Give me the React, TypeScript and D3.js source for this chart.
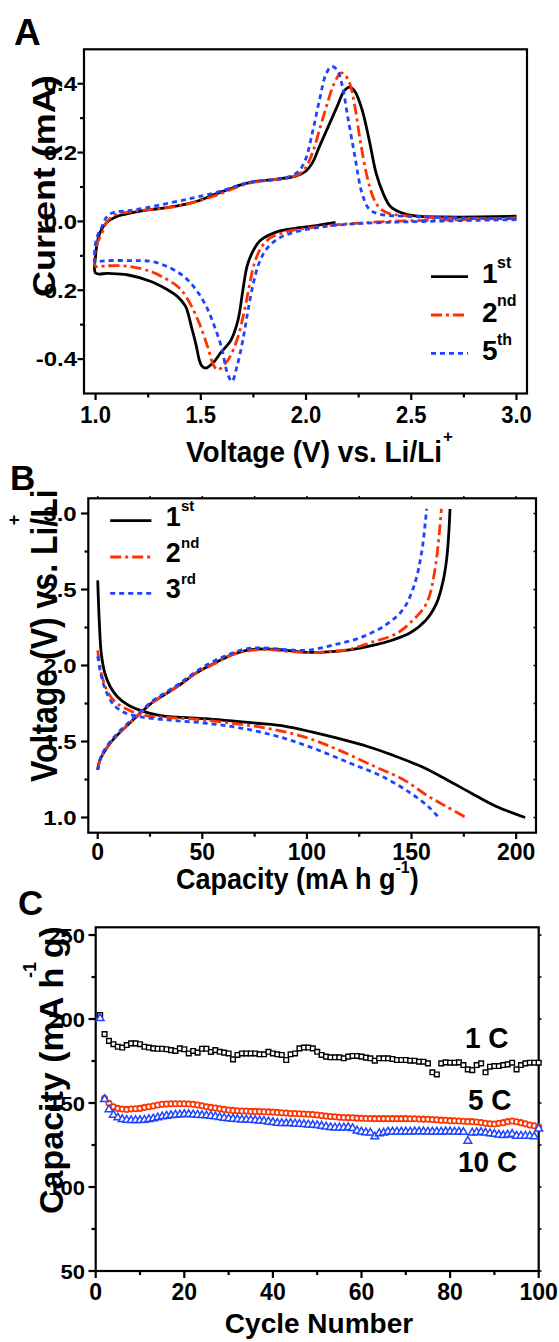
import React from 'react'
import * as d3 from 'd3'

// ---- panel A: cyclic voltammetry (V, mA) ----
const cv1V = [2.14, 2.05, 1.95, 1.88, 1.83, 1.78, 1.745, 1.72, 1.70, 1.677, 1.644, 1.593, 1.56, 1.525, 1.505, 1.494, 1.478, 1.455, 1.427, 1.387, 1.34, 1.26, 1.15, 1.06, 1.0,
  1.0, 1.005, 1.02, 1.05, 1.10, 1.18, 1.26, 1.34, 1.43, 1.49, 1.56, 1.627, 1.694, 1.76, 1.862, 1.946, 1.997, 2.03, 2.064, 2.106, 2.148, 2.18, 2.207, 2.232, 2.266, 2.30, 2.333, 2.366, 2.40, 2.45, 2.518, 2.652, 2.82, 3.0]
const cv1I = [-0.003, -0.012, -0.02, -0.027, -0.038, -0.057, -0.09, -0.13, -0.199, -0.286, -0.344, -0.383, -0.41, -0.426, -0.42, -0.405, -0.36, -0.305, -0.246, -0.217, -0.198, -0.174, -0.155, -0.151, -0.15,
  -0.10, -0.073, -0.034, -0.005, 0.014, 0.026, 0.034, 0.04, 0.05, 0.06, 0.077, 0.092, 0.107, 0.116, 0.123, 0.131, 0.145, 0.17, 0.218, 0.276, 0.334, 0.378, 0.39, 0.378, 0.325, 0.237, 0.14, 0.082, 0.044, 0.026, 0.016, 0.013, 0.013, 0.015]
const cv2V = [3.0, 2.74, 2.4, 2.14, 2.0, 1.9, 1.83, 1.79, 1.755, 1.73, 1.705, 1.672, 1.63, 1.58, 1.56, 1.535, 1.49, 1.43, 1.39, 1.34, 1.26, 1.15, 1.05, 1.0,
  1.003, 1.03, 1.055, 1.09, 1.157, 1.224, 1.39, 1.56, 1.73, 1.9, 1.963, 1.997, 2.03, 2.064, 2.097, 2.131, 2.165, 2.18, 2.207, 2.232, 2.257, 2.29, 2.324, 2.358, 2.40, 2.484, 2.652, 3.0]
const cv2I = [0.01, 0.005, 0.0, -0.01, -0.02, -0.031, -0.048, -0.073, -0.121, -0.189, -0.266, -0.344, -0.402, -0.431, -0.417, -0.369, -0.292, -0.218, -0.189, -0.169, -0.145, -0.13, -0.129, -0.13,
  -0.073, -0.034, 0.0, 0.019, 0.027, 0.032, 0.044, 0.073, 0.111, 0.125, 0.136, 0.155, 0.198, 0.266, 0.334, 0.397, 0.431, 0.429, 0.402, 0.334, 0.237, 0.131, 0.063, 0.034, 0.022, 0.016, 0.01, 0.008]
const cv5V = [3.0, 2.57, 2.23, 2.064, 1.93, 1.86, 1.81, 1.777, 1.75, 1.725, 1.70, 1.672, 1.648, 1.624, 1.60, 1.565, 1.525, 1.478, 1.42, 1.34, 1.26, 1.18, 1.02, 1.0,
  1.003, 1.03, 1.055, 1.09, 1.157, 1.56, 1.73, 1.9, 1.963, 1.997, 2.03, 2.064, 2.097, 2.123, 2.148, 2.173, 2.198, 2.232, 2.266, 2.3, 2.35, 2.484, 2.74, 3.0]
const cv5I = [0.005, 0.0, -0.007, -0.017, -0.034, -0.053, -0.082, -0.121, -0.179, -0.257, -0.344, -0.421, -0.465, -0.436, -0.369, -0.305, -0.246, -0.199, -0.16, -0.131, -0.116, -0.114, -0.116, -0.121,
  -0.053, -0.015, 0.015, 0.027, 0.031, 0.082, 0.113, 0.126, 0.145, 0.179, 0.257, 0.353, 0.431, 0.45, 0.44, 0.392, 0.305, 0.189, 0.082, 0.036, 0.021, 0.015, 0.01, 0.008]
const aXTicks = [1.0, 1.5, 2.0, 2.5, 3.0]
const aXLabels = ['1.0', '1.5', '2.0', '2.5', '3.0']
const aXMinor = [1.25, 1.75, 2.25, 2.75]
const aYTicks = [-0.4, -0.2, 0, 0.2, 0.4]
const aYLabels = ['-0.4', '-0.2', '0.0', '0.2', '0.4']
const aYMinor = [-0.3, -0.1, 0.1, 0.3]

// ---- panel B: charge / discharge (mA h g-1, V) ----
const dis1Cap = [0, 0.85, 1.7, 3.4, 6, 9.4, 14.5, 21.4, 30, 38.5, 51.3, 64, 76, 89.7, 101.7, 115, 129, 141, 154.7, 166.7, 178.6, 190.6, 204.3]
const dis1V = [2.56, 2.26, 2.08, 1.95, 1.86, 1.795, 1.74, 1.70, 1.67, 1.66, 1.65, 1.635, 1.62, 1.60, 1.565, 1.52, 1.467, 1.41, 1.335, 1.25, 1.16, 1.072, 1.0]
const chg1Cap = [0, 0.85, 2.6, 6, 11, 16, 21.4, 26.5, 33.3, 40, 47, 55.6, 64, 71, 79.5, 89.7, 100, 110, 122, 132.5, 141, 149.4, 157, 162, 165, 166.8, 167.8, 168.4]
const chg1V = [1.313, 1.37, 1.42, 1.49, 1.565, 1.63, 1.70, 1.76, 1.82, 1.88, 1.95, 2.014, 2.07, 2.10, 2.11, 2.10, 2.087, 2.09, 2.106, 2.135, 2.168, 2.215, 2.30, 2.41, 2.55, 2.70, 2.87, 3.03]
const dis2Cap = [0, 1.7, 4.3, 7.7, 12.8, 21.4, 31.6, 47, 64, 81, 98.3, 115, 132.5, 146, 158, 166.7, 176]
const dis2V = [2.10, 1.95, 1.84, 1.77, 1.72, 1.675, 1.66, 1.646, 1.62, 1.587, 1.532, 1.445, 1.335, 1.25, 1.14, 1.072, 1.0]
const chg2Cap = [0, 0.85, 2.6, 6, 11, 16, 21.4, 26.5, 33.3, 40, 47, 55.6, 64, 71, 79.5, 89.7, 100, 110, 120, 130.1, 142.8, 150.8, 157.2, 161.2, 164.3]
const chg2V = [1.313, 1.37, 1.42, 1.49, 1.565, 1.63, 1.70, 1.76, 1.82, 1.88, 1.95, 2.01, 2.07, 2.095, 2.105, 2.095, 2.085, 2.09, 2.105, 2.15, 2.21, 2.30, 2.41, 2.63, 3.03]
const dis3Cap = [0, 1.7, 4.3, 7.7, 12.8, 21.4, 35, 52, 69, 86.5, 103, 120.7, 136, 149.6, 158, 163]
const dis3V = [2.06, 1.93, 1.82, 1.74, 1.69, 1.66, 1.64, 1.62, 1.587, 1.532, 1.456, 1.357, 1.27, 1.16, 1.072, 1.0]
const chg3Cap = [0, 0.85, 2.6, 6, 11, 16, 21.4, 26.5, 33.3, 40, 47, 55.6, 64, 71, 79.5, 89.7, 100, 114.2, 126.9, 138, 146, 151.1, 154.8, 157.2]
const chg3V = [1.313, 1.37, 1.43, 1.50, 1.575, 1.64, 1.71, 1.77, 1.83, 1.89, 1.96, 2.03, 2.08, 2.11, 2.115, 2.105, 2.10, 2.14, 2.19, 2.27, 2.37, 2.52, 2.74, 3.03]
const bXTicks = [0, 50, 100, 150, 200]
const bXMinor = [25, 75, 125, 175]
const bYTicks = [1.0, 1.5, 2.0, 2.5, 3.0]
const bYLabels = ['1.0', '1.5', '2.0', '2.5', '3.0']
const bYMinor = [1.25, 1.75, 2.25, 2.75]

// ---- panel C: cycling at 1 C / 5 C / 10 C (mA h g-1) ----
const cap1C = [202.4, 191, 187, 185, 183.5, 183, 184.5, 185.5, 185.5, 185, 183.5, 183, 182.5, 182.3, 182.3, 182, 181.5, 181, 182.5, 182,
  179.5, 181, 180, 182.3, 182.3, 180.4, 181.5, 180.5, 180, 179.5, 176, 178.6, 179.5, 179.5, 179.5, 179.5, 179, 179, 180.5, 179.5,
  179, 178.6, 175.6, 179, 179.5, 182.5, 183, 183, 182.5, 180.5, 178.6, 177.6, 177.2, 177.2, 177.2, 176.6, 177.6, 178, 178, 177.6,
  177, 176.6, 175.2, 176.6, 176.6, 176.6, 176.2, 175.6, 175.6, 175.6, 175.2, 175.2, 174.6, 174.6, 173.6, 168.3, 167, 173.6, 174.2, 174,
  174, 174.2, 172.6, 170, 169.6, 172.6, 173.6, 168.3, 171.6, 172, 172, 172.6, 173, 174, 170, 172.6, 173.6, 174, 174, 174]
const cap5C = [null, 152.8, 149.8, 147.8, 146.8, 146.4, 146.2, 146.4, 146.6, 146.8, 147.4, 147.8, 148.2, 148.8, 149.2, 149.4, 149.6, 149.6, 149.6, 149.6,
  149.4, 149.2, 148.8, 148.4, 147.8, 147.4, 147, 146.6, 146.2, 145.8, 145.6, 145.4, 145.2, 145.2, 145, 145, 144.9, 144.8, 144.7, 144.6,
  144.4, 144.2, 144, 143.8, 143.8, 143.6, 143.5, 143.3, 143.1, 142.9, 142.5, 142.2, 142, 141.8, 141.5, 141.4, 141.3, 141.2, 141, 140.9,
  140.8, 140.8, 140.7, 140.7, 140.7, 140.7, 140.7, 140.7, 140.7, 140.7, 140.6, 140.6, 140.5, 140.4, 140.3, 140.2, 140, 139.8, 139.7, 139.5,
  139.4, 139.3, 139.1, 139, 138.9, 138.7, 138.4, 137.9, 137.7, 137.5, 137.9, 138.3, 138.9, 139.3, 138.8, 138.3, 137.6, 136.9, 136.4, 135.9]
const cap10C = [200.4, 152.2, 146.2, 142.9, 141.3, 140.3, 139.9, 139.7, 139.7, 139.7, 139.9, 140.3, 140.7, 141.3, 141.9, 142.3, 142.7, 142.9, 143.1, 143.3,
  143.3, 143.1, 142.9, 142.7, 142.5, 142.3, 141.9, 141.5, 141.1, 140.7, 140.5, 140.3, 140.1, 140.1, 139.9, 139.7, 139.5, 139.3, 138.9, 138.5,
  138.1, 137.9, 137.9, 137.9, 137.7, 137.5, 137.3, 137.1, 136.9, 136.7, 136.3, 135.9, 135.5, 135.3, 135.3, 135.3, 135.5, 134.9, 133.5, 132.9,
  132.5, 132.3, 130, 131.9, 132.3, 132.9, 132.9, 132.9, 132.9, 132.9, 132.9, 133, 133, 133, 132.9, 132.9, 132.9, 132.9, 133, 133,
  132.9, 132.9, 132.7, 127.4, 132.3, 132.5, 132.7, 132.3, 131.9, 131.5, 131.1, 130.8, 131.1, 131.5, 130.4, 130.4, 130.4, 130.4, 130, 134.7]
const cXTicks = [0, 20, 40, 60, 80, 100]
const cXMinor = [10, 30, 50, 70, 90]
const cYTicks = [50, 100, 150, 200, 250]
const cYMinor = [75, 125, 175, 225]

const FONT = "'Liberation Sans', Arial, Helvetica, sans-serif"
const RED = '#ff3300'
const BLUE = '#1f44ff'
const AX = 2.2

const xA = d3.scaleLinear().domain([0.945, 3.05]).range([84, 527])
const yA = d3.scaleLinear().domain([-0.5, 0.5]).range([393.5, 49.3])
const xB = d3.scaleLinear().domain([-4.5, 209.5]).range([88.3, 536])
const yB = d3.scaleLinear().domain([0.9, 3.1]).range([832.7, 498.3])
const xC = d3.scaleLinear().domain([0, 100]).range([95.7, 538.7])
const yC = d3.scaleLinear().domain([50, 254.6]).range([1271, 927.3])

const zip = (xs, ys) => xs.map((x, i) => [x, ys[i]])

function Label({ x, y, size, rot = 0, sx = 1, sy = 1, anchor = 'start', children }) {
  return (
    <text transform={`translate(${x},${y}) rotate(${rot}) scale(${sx},${sy})`} fontSize={size}
      fontFamily={FONT} fontWeight="bold" textAnchor={anchor} fill="#000">{children}</text>
  )
}

function Curve({ pts, x, y, color, dash }) {
  const line = d3.line().x(d => x(d[0])).y(d => y(d[1])).curve(d3.curveCatmullRom.alpha(0.5))
  return <path d={line(pts)} fill="none" stroke={color} strokeWidth={2.8} strokeDasharray={dash} />
}

const styles = [
  { color: '#000', dash: undefined },
  { color: RED, dash: '11 4 3 4' },
  { color: BLUE, dash: '5 4' },
]

export default function App() {
  const sq = d3.symbol().type(d3.symbolSquare).size(22)()
  const ci = d3.symbol().type(d3.symbolCircle).size(22)()
  const tr = d3.symbol().type(d3.symbolTriangle).size(26)()

  return (
    <svg width={559} height={1342} style={{ position: 'absolute', left: 0, top: 0, background: '#fff' }}>
      {/* ================= A ================= */}
      <Label x={14} y={45} size={37}>A</Label>
      <rect x={84} y={49.3} width={443} height={344.2} fill="none" stroke="#000" strokeWidth={AX} />
      {aXTicks.map(v => <line key={'ax' + v} x1={xA(v)} x2={xA(v)} y1={393.5} y2={400} stroke="#000" strokeWidth={AX} />)}
      {aXMinor.map(v => <line key={'axm' + v} x1={xA(v)} x2={xA(v)} y1={393.5} y2={397.5} stroke="#000" strokeWidth={AX} />)}
      {aYTicks.map(v => <line key={'ay' + v} x1={84} x2={77.5} y1={yA(v)} y2={yA(v)} stroke="#000" strokeWidth={AX} />)}
      {aYMinor.map(v => <line key={'aym' + v} x1={84} x2={80} y1={yA(v)} y2={yA(v)} stroke="#000" strokeWidth={AX} />)}
      {aXTicks.map((v, i) => <Label key={'axl' + v} x={xA(v)} y={422.7} size={22} sy={1.12} anchor="middle">{aXLabels[i]}</Label>)}
      {aYTicks.map((v, i) => <Label key={'ayl' + v} x={77} y={yA(v) + 7.3} size={24} sy={0.85} anchor="end">{aYLabels[i]}</Label>)}
      <Label x={186} y={461.5} size={28} sy={1.08}>Voltage (V) vs. Li/Li</Label>
      <Label x={443} y={442} size={17}>+</Label>
      <Label x={55} y={297} size={31} rot={-90} sx={1.16}>Current (mA)</Label>
      <Curve pts={zip(cv1V, cv1I)} x={xA} y={yA} {...styles[0]} />
      <Curve pts={zip(cv2V, cv2I)} x={xA} y={yA} {...styles[1]} />
      <Curve pts={zip(cv5V, cv5I)} x={xA} y={yA} {...styles[2]} />
      {['1', '2', '5'].map((n, i) => (
        <g key={'lgA' + n}>
          <line x1={431} x2={468} y1={276.7 + i * 38.3} y2={276.7 + i * 38.3} stroke={styles[i].color} strokeWidth={2.8} strokeDasharray={styles[i].dash} />
          <Label x={482} y={283.3 + i * 38.3} size={28}>{n}</Label>
          <Label x={497} y={268 + i * 38.3} size={16}>{['st', 'nd', 'th'][i]}</Label>
        </g>
      ))}

      {/* ================= B ================= */}
      <Label x={10} y={490} size={35}>B</Label>
      <rect x={88.3} y={498.3} width={447.7} height={334.4} fill="none" stroke="#000" strokeWidth={AX} />
      {bXTicks.map(v => <line key={'bx' + v} x1={xB(v)} x2={xB(v)} y1={832.7} y2={839} stroke="#000" strokeWidth={AX} />)}
      {bXMinor.map(v => <line key={'bxm' + v} x1={xB(v)} x2={xB(v)} y1={832.7} y2={836.7} stroke="#000" strokeWidth={AX} />)}
      {bXTicks.concat(bXMinor).map(v => <line key={'bxt' + v} x1={xB(v)} x2={xB(v)} y1={498.3} y2={496} stroke="#000" strokeWidth={1.5} />)}
      {bYTicks.map(v => <line key={'by' + v} x1={88.3} x2={81} y1={yB(v)} y2={yB(v)} stroke="#000" strokeWidth={AX} />)}
      {bYMinor.map(v => <line key={'bym' + v} x1={88.3} x2={84.5} y1={yB(v)} y2={yB(v)} stroke="#000" strokeWidth={AX} />)}
      {bYTicks.concat(bYMinor).map(v => <line key={'byr' + v} x1={536} x2={533.5} y1={yB(v)} y2={yB(v)} stroke="#000" strokeWidth={1.5} />)}
      {bXTicks.map(v => <Label key={'bxl' + v} x={xB(v)} y={860} size={23} sy={1.05} anchor="middle">{String(v)}</Label>)}
      {bYTicks.map((v, i) => <Label key={'byl' + v} x={76.7} y={yB(v) + 7.5} size={24} sy={0.87} anchor="end">{bYLabels[i]}</Label>)}
      <text transform="translate(176,889) scale(1,1.08)" fontSize={27} fontFamily={FONT} fontWeight="bold">
        Capacity (mA h g<tspan fontSize={16} dy={-15}>-1</tspan><tspan dy={15}>)</tspan>
      </text>
      <Label x={56.5} y={782} size={32} rot={-90} sy={1.17}>Voltage (V) vs. Li/Li</Label>
      <Label x={20} y={520} size={18} rot={-90} anchor="middle">+</Label>
      <Curve pts={zip(dis1Cap, dis1V)} x={xB} y={yB} {...styles[0]} />
      <Curve pts={zip(chg1Cap, chg1V)} x={xB} y={yB} {...styles[0]} />
      <Curve pts={zip(dis2Cap, dis2V)} x={xB} y={yB} {...styles[1]} />
      <Curve pts={zip(chg2Cap, chg2V)} x={xB} y={yB} {...styles[1]} />
      <Curve pts={zip(dis3Cap, dis3V)} x={xB} y={yB} {...styles[2]} />
      <Curve pts={zip(chg3Cap, chg3V)} x={xB} y={yB} {...styles[2]} />
      {['1', '2', '3'].map((n, i) => (
        <g key={'lgB' + n}>
          <line x1={110.2} x2={151.4} y1={520.7 + i * 36.3} y2={520.7 + i * 36.3} stroke={styles[i].color} strokeWidth={2.8} strokeDasharray={styles[i].dash} />
          <Label x={165.7} y={526 + i * 36.2} size={27}>{n}</Label>
          <Label x={181} y={511 + i * 36.5} size={15}>{['st', 'nd', 'rd'][i]}</Label>
        </g>
      ))}

      {/* ================= C ================= */}
      <Label x={18} y={915} size={35}>C</Label>
      <rect x={95.7} y={927.3} width={443} height={343.7} fill="none" stroke="#000" strokeWidth={AX} />
      {cXTicks.map(v => <line key={'cx' + v} x1={xC(v)} x2={xC(v)} y1={1271} y2={1278} stroke="#000" strokeWidth={AX} />)}
      {cXMinor.map(v => <line key={'cxm' + v} x1={xC(v)} x2={xC(v)} y1={1271} y2={1275} stroke="#000" strokeWidth={AX} />)}
      {cYTicks.map(v => <line key={'cy' + v} x1={95.7} x2={88.5} y1={yC(v)} y2={yC(v)} stroke="#000" strokeWidth={AX} />)}
      {cYMinor.map(v => <line key={'cym' + v} x1={95.7} x2={91.5} y1={yC(v)} y2={yC(v)} stroke="#000" strokeWidth={AX} />)}
      {cYTicks.concat(cYMinor).map(v => <line key={'cyr' + v} x1={538.7} x2={541.5} y1={yC(v)} y2={yC(v)} stroke="#000" strokeWidth={1.5} />)}
      {cXTicks.map(v => <Label key={'cxl' + v} x={xC(v)} y={1300} size={23} anchor="middle">{String(v)}</Label>)}
      {cYTicks.map(v => <Label key={'cyl' + v} x={85} y={yC(v) + 7.6} size={22} sy={0.95} anchor="end">{String(v)}</Label>)}
      <Label x={319} y={1333} size={28} anchor="middle">Cycle Number</Label>
      <Label x={63} y={1214} size={34} rot={-90}>Capacity (mA h g)</Label>
      <Label x={36} y={970} size={18} rot={-90} anchor="middle">-1</Label>
      {cap1C.map((v, i) => <path key={'s' + i} d={sq} transform={`translate(${xC(i + 1)},${yC(v)})`} fill="#fff" stroke="#000" strokeWidth={1.4} />)}
      {cap5C.map((v, i) => v == null ? null : <path key={'c' + i} d={ci} transform={`translate(${xC(i + 1)},${yC(v)})`} fill="#fff" stroke={RED} strokeWidth={1.8} />)}
      {cap10C.map((v, i) => <path key={'t' + i} d={tr} transform={`translate(${xC(i + 1)},${yC(v)})`} fill="#fff" stroke={BLUE} strokeWidth={1.5} />)}
      <Label x={465} y={1048} size={28} sy={1.08}>1 C</Label>
      <Label x={468} y={1110} size={28} sy={1.08}>5 C</Label>
      <Label x={458} y={1172} size={28} sy={1.08}>10 C</Label>
    </svg>
  )
}
